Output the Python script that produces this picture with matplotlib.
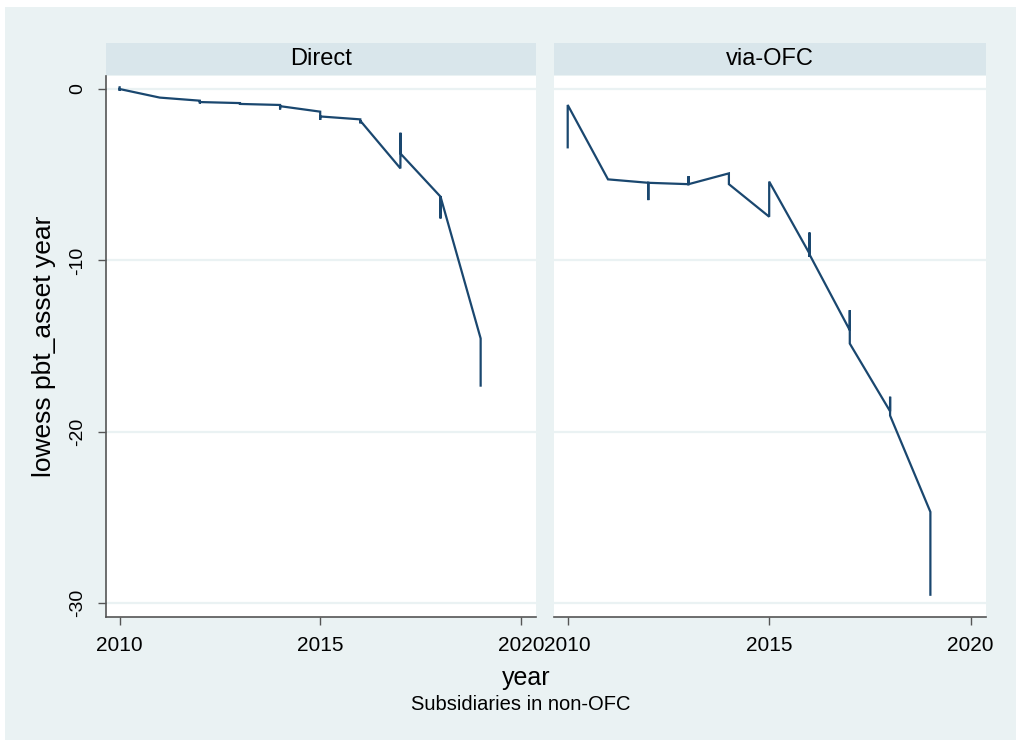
#!/usr/bin/env python3

import numpy as np
from matplotlib import pyplot as plt
from matplotlib.patches import Rectangle

# lowess path per panel (ties at the same year give the short vertical runs)
PANELS = ['Direct', 'via-OFC']

direct_x = [2010, 2010, 2010, 2011, 2012, 2012, 2012, 2013, 2013, 2013,
            2014, 2014, 2014, 2015, 2015, 2015, 2016, 2016, 2016,
            2017, 2017, 2017, 2018, 2018, 2018, 2019, 2019]
direct_y = [0.1, -0.1, 0.0, -0.5, -0.68, -0.84, -0.76, -0.82, -0.92, -0.87,
            -0.93, -1.19, -1.0, -1.32, -1.8, -1.6, -1.77, -2.0, -1.85,
            -4.63, -2.55, -3.76, -6.28, -7.55, -6.28, -14.55, -17.3]

ofc_x = [2010, 2010, 2011, 2012, 2012, 2012, 2013, 2013, 2013, 2014, 2014,
         2015, 2015, 2016, 2016, 2016, 2016, 2017, 2017, 2017,
         2018, 2018, 2018, 2019, 2019]
ofc_y = [-3.4, -0.93, -5.27, -5.47, -6.48, -5.47, -5.55, -5.08, -5.55, -4.92, -5.55,
         -7.45, -5.4, -9.6, -8.37, -9.79, -9.65, -14.07, -12.9, -14.85,
         -18.8, -17.95, -19.05, -24.67, -29.5]

x_ticks = [2010, 2015, 2020]
y_ticks = [0, -10, -20, -30]

BG = '#eaf2f3'
STRIP = '#d9e6eb'
LINE = '#1a476f'
AXC = '#555555'

W, H = 1016, 740


def px_box(x0, y0, x1, y1):
  # pixel box (top-left origin) -> figure fraction rect
  return [x0 / W, 1 - y1 / H, (x1 - x0) / W, (y1 - y0) / H]


def main():
  plt.rcParams['font.family'] = ['Liberation Sans', 'DejaVu Sans']
  fig = plt.figure(figsize=(W / 100, H / 100), dpi=100, facecolor='white')
  fig.patches.append(Rectangle((5 / W, 0), 1 - 5 / W, 1 - 7 / H, transform=fig.transFigure,
                               facecolor=BG, edgecolor='none', zorder=-5))

  boxes = [(106, 76, 536, 617), (554, 76, 986, 617)]
  series = [(direct_x, direct_y), (ofc_x, ofc_y)]

  for i, (name, box, (xs, ys)) in enumerate(zip(PANELS, boxes, series)):
    ax = fig.add_axes(px_box(*box))
    ax.set_facecolor('white')
    ax.plot(xs, ys, color=LINE, lw=1.6, solid_joinstyle='miter', zorder=3)
    ax.set_xlim(2009.66, 2020.38)
    ax.set_ylim(-30.8, 0.76)
    for yv in y_ticks:
      ax.axhline(yv, color=BG, lw=1.6, zorder=1)
    for s in ['top', 'right']:
      ax.spines[s].set_visible(False)
    ax.spines['bottom'].set_color(AXC)
    ax.spines['bottom'].set_linewidth(1.2)
    ax.set_xticks(x_ticks)
    ax.set_xticklabels([str(t) for t in x_ticks], fontsize=15)
    ax.tick_params(axis='x', length=6, width=1, color=AXC, pad=8)
    if i == 0:
      ax.spines['left'].set_color(AXC)
      ax.spines['left'].set_linewidth(1.2)
      ax.set_yticks(y_ticks)
      ax.set_yticklabels([str(t) for t in y_ticks], fontsize=14, rotation=90, va='center')
      ax.tick_params(axis='y', length=6, width=1, color=AXC, pad=8)
      ax.set_ylabel('lowess pbt_asset year', fontsize=19, labelpad=10)
    else:
      ax.spines['left'].set_visible(False)
      ax.set_yticks([])

    # panel title strip
    sx = fig.add_axes(px_box(box[0], 43, box[2], 75))
    sx.set_facecolor(STRIP)
    sx.set_xticks([])
    sx.set_yticks([])
    for s in sx.spines.values():
      s.set_visible(False)
    sx.text(0.5, 0.5, name, ha='center', va='center', fontsize=17, transform=sx.transAxes)

  fig.text(526 / W, 1 - 678 / H, 'year', ha='center', va='center', fontsize=18)
  fig.text(521 / W, 1 - 705 / H, 'Subsidiaries in non-OFC', ha='center', va='center', fontsize=14.5)

  fig.savefig('out.png', dpi=100, facecolor=fig.get_facecolor())


if __name__ == "__main__":
  main()
